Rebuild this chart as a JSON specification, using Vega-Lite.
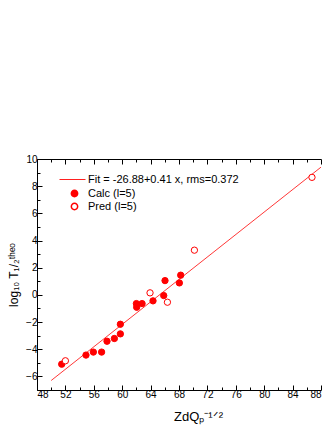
{
  "$schema": "https://vega.github.io/schema/vega-lite/v6.json",
  "width": 284,
  "height": 231,
  "autosize": {"type": "none"},
  "padding": {"left": 37, "top": 159, "right": 11, "bottom": 40},
  "background": "white",
  "config": {
    "view": {"stroke": null},
    "font": "Liberation Sans",
    "axis": {
      "domainColor": "black",
      "tickColor": "black",
      "labelColor": "black",
      "titleColor": "black",
      "grid": false,
      "labelFont": "Liberation Sans",
      "titleFont": "Liberation Sans",
      "labelFontSize": 10,
      "titleFontSize": 13,
      "titleFontWeight": "normal",
      "domainWidth": 1,
      "tickWidth": 1
    },
    "legend": {
      "labelFont": "Liberation Sans",
      "labelFontSize": 11,
      "labelColor": "black"
    }
  },
  "datasets": {
    "fit": [
      {"x": 50, "y": -6.3, "series": "Fit = -26.88+0.41 x, rms=0.372"},
      {"x": 88, "y": 9.4, "series": "Fit = -26.88+0.41 x, rms=0.372"}
    ],
    "pts": [
      {"x": 51.48, "y": -5.1, "type": "Calc (l=5)"},
      {"x": 54.9, "y": -4.43, "type": "Calc (l=5)"},
      {"x": 55.94, "y": -4.21, "type": "Calc (l=5)"},
      {"x": 57.1, "y": -4.21, "type": "Calc (l=5)"},
      {"x": 57.86, "y": -3.41, "type": "Calc (l=5)"},
      {"x": 58.9, "y": -3.21, "type": "Calc (l=5)"},
      {"x": 59.74, "y": -2.87, "type": "Calc (l=5)"},
      {"x": 59.74, "y": -2.16, "type": "Calc (l=5)"},
      {"x": 62.0, "y": -0.64, "type": "Calc (l=5)"},
      {"x": 62.04, "y": -0.91, "type": "Calc (l=5)"},
      {"x": 62.8, "y": -0.64, "type": "Calc (l=5)"},
      {"x": 64.34, "y": -0.44, "type": "Calc (l=5)"},
      {"x": 65.85, "y": -0.05, "type": "Calc (l=5)"},
      {"x": 66.03, "y": 1.05, "type": "Calc (l=5)"},
      {"x": 68.05, "y": 0.88, "type": "Calc (l=5)"},
      {"x": 68.24, "y": 1.45, "type": "Calc (l=5)"},
      {"x": 52.0, "y": -4.85, "type": "Pred (l=5)"},
      {"x": 63.92, "y": 0.15, "type": "Pred (l=5)"},
      {"x": 66.37, "y": -0.54, "type": "Pred (l=5)"},
      {"x": 70.17, "y": 3.29, "type": "Pred (l=5)"},
      {"x": 86.73, "y": 8.65, "type": "Pred (l=5)"}
    ]
  },
  "layer": [
    {
      "data": {"name": "fit"},
      "mark": {"type": "line", "strokeWidth": 0.9, "clip": true},
      "encoding": {
        "x": {
          "field": "x", "type": "quantitative",
          "scale": {"domain": [48, 88], "nice": false, "zero": false},
          "axis": {
            "orient": "top", "title": null, "labels": false,
            "values": [48,50,52,54,56,58,60,62,64,66,68,70,72,74,76,78,80,82,84,86,88],
            "tickSize": {"condition": {"test": "datum.value % 4 === 0", "value": -5}, "value": -3}
          }
        },
        "y": {
          "field": "y", "type": "quantitative",
          "scale": {"domain": [-7, 10], "nice": false, "zero": false},
          "axis": {
            "orient": "left",
            "title": "log₁₀ T₁/₂ᵗʰᵉᵒ",
            "titleFontSize": 12,
            "values": [-7,-6,-5,-4,-3,-2,-1,0,1,2,3,4,5,6,7,8,9,10],
            "labelExpr": "datum.value % 2 === 0 ? datum.label : ''",
            "tickSize": {"condition": {"test": "datum.value % 2 === 0", "value": -5}, "value": -3},
            "labelPadding": 5,
            "titlePadding": 5
          }
        },
        "color": {
          "field": "series", "type": "nominal",
          "scale": {"range": ["#FF2020"]},
          "legend": {
            "title": null, "orient": "none", "legendX": 22, "legendY": 7,
            "symbolType": "stroke", "symbolSize": 676, "symbolStrokeWidth": 1,
            "symbolStrokeColor": "#FF2020", "symbolFillColor": "#FF2020",
            "labelOffset": 2, "padding": 0,
            "encode": {"symbols": {"update": {"stroke": {"value": "#FF2020"}, "fill": {"value": "#FF2020"}, "strokeWidth": {"value": 1}, "opacity": {"value": 1}}}}
          }
        }
      }
    },
    {
      "data": {"name": "pts"},
      "mark": {"type": "point", "shape": "circle", "size": 40, "strokeWidth": 1, "opacity": 1},
      "encoding": {
        "x": {
          "field": "x", "type": "quantitative",
          "axis": {
            "orient": "bottom",
            "title": "ZdQₚ⁻¹ᐟ²",
            "values": [48,50,52,54,56,58,60,62,64,66,68,70,72,74,76,78,80,82,84,86,88],
            "labelExpr": "datum.value % 4 === 0 ? datum.label : ''",
            "tickSize": {"condition": {"test": "datum.value % 4 === 0", "value": -5}, "value": -3},
            "labelPadding": 4,
            "titlePadding": 11,
            "titleX": 161
          }
        },
        "y": {
          "field": "y", "type": "quantitative",
          "axis": {
            "orient": "left",
            "title": "log₁₀ T₁/₂ᵗʰᵉᵒ",
            "titleFontSize": 12,
            "values": [-7,-6,-5,-4,-3,-2,-1,0,1,2,3,4,5,6,7,8,9,10],
            "labelExpr": "datum.value % 2 === 0 ? datum.label : ''",
            "tickSize": {"condition": {"test": "datum.value % 2 === 0", "value": -5}, "value": -3},
            "labelPadding": 5,
            "titlePadding": 5
          }
        },
        "fill": {
          "field": "type", "type": "nominal",
          "scale": {"domain": ["Calc (l=5)", "Pred (l=5)"], "range": ["#FF0000", "#FFFFFF"]},
          "legend": {
            "title": null, "orient": "none", "legendX": 32, "legendY": 29,
            "symbolSize": 40, "labelOffset": 8, "padding": 0, "rowPadding": 0
          }
        },
        "stroke": {
          "field": "type", "type": "nominal",
          "scale": {"domain": ["Calc (l=5)", "Pred (l=5)"], "range": ["#FF0000", "#FF0000"]},
          "legend": {
            "title": null, "orient": "none", "legendX": 32, "legendY": 29,
            "symbolSize": 40, "labelOffset": 8, "padding": 0, "rowPadding": 0
          }
        }
      }
    }
  ]
}
